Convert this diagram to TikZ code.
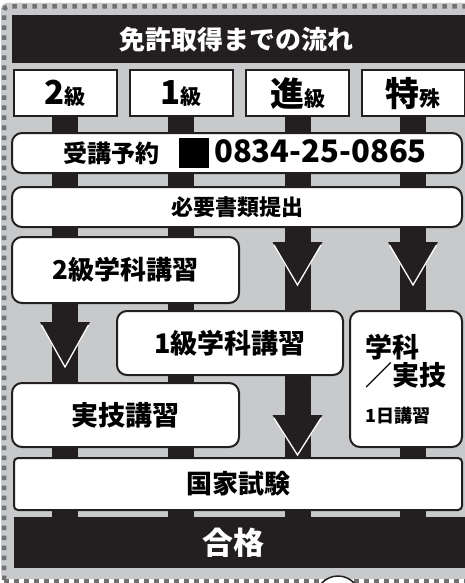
\documentclass[tikz,border=0pt]{standalone}
\usepackage{fontspec}
\setmainfont{Noto Sans CJK JP}[BoldFont={Noto Sans CJK JP Black}]
\usetikzlibrary{positioning}
\definecolor{ink}{HTML}{231F20}
\definecolor{panel}{HTML}{C8C9CB}
\definecolor{dotgray}{HTML}{707173}
\newcommand{\fs}[1]{\fontsize{#1}{#1}\selectfont}

\begin{document}
\begin{tikzpicture}[x=1pt,y=-1pt,
    box/.style={draw=ink,fill=white,line width=2pt,rounded corners=10pt,inner sep=0pt,font=\bfseries\fs{26}},
    head/.style={draw=ink,fill=white,line width=2pt,inner sep=0pt,minimum width=103pt,minimum height=46pt,font=\bfseries},
    band/.style={fill=ink,text=white,inner sep=0pt,font=\bfseries},
    bar/.style={draw=ink,line width=26pt},
    dots/.style={draw=dotgray,line width=4.5pt,dash pattern=on 4.5pt off 5.5pt}]
  \useasboundingbox (0,0) rectangle (464,583);
  % panel and dotted frame
  \fill[panel,rounded corners=6pt] (1,3) rectangle (490,579);
  \draw[dots,rounded corners=4pt] (4,600) -- (4,6.5) -- (490,6.5);
  \draw[dots] (4,581) -- (490,581);
  \draw[ink,fill=white,line width=1.5pt] (338,598) circle[radius=22];

  \node[band,minimum width=460pt,minimum height=48pt,anchor=north west] (title) at (12,15)
       {\hspace*{-12pt}\fs{26}免許取得までの流れ};

  \node[head] (h2) at (65,93.5)   {\fs{33}2\fs{21}級};
  \node[head] (h1) at (181,93.5)  {\fs{33}1\fs{21}級};
  \node[head] (hs) at (297.5,93.5) {\fs{34}進\fs{21}級};
  \node[head] (ht) at (413,93.5)  {\fs{34}特\fs{21}殊};

  \node[band,minimum width=456pt,minimum height=51pt,anchor=north west] (pass) at (14,517)
       {\hspace*{-18pt}\fs{31}合格};

  % column bars
  \draw[bar] (h2.south) -- (h2.south |- pass.north);
  \draw[bar] (h1.south) -- (h1.south |- pass.north);
  \draw[bar] (hs.south) -- (hs.south |- pass.north);
  \draw[bar] (ht.south) -- (ht.south |- pass.north);

  % arrow heads
  \foreach \cx/\cy/\h in {297.5/242/46, 413/242/46, 65/322/48, 297.5/415/43} {
    \fill[ink] (\cx-25,\cy) -- (\cx+25,\cy) -- (\cx,\cy+\h) -- cycle;
    \draw[white,line width=1.3pt] (\cx-23.5,\cy+3) -- (\cx,\cy+\h-3) -- (\cx+23.5,\cy+3);
  }

  \node[box,minimum width=450pt,minimum height=40pt] (yoyaku) at (237,153)
       {\hspace*{16pt}\fs{24}受講予約\hspace{20pt}\rule[-5pt]{30pt}{29pt}\hspace{5pt}\fs{31}0834-25-0865};
  \node[box,minimum width=450pt,minimum height=40pt,below=12pt of yoyaku] (shorui)
       {\fs{22}必要書類提出};
  \node[box,minimum width=227pt,minimum height=66pt] (gaku2) at (125.5,270) {2級学科講習};
  \node[box,minimum width=226pt,minimum height=64pt] (gaku1) at (230,343) {\fs{27}1級学科講習};
  \node[box,minimum width=112pt,minimum height=136pt,align=left] (tokusyu) at (406,379)
       {\fs{27}学科\\[2pt]\fs{27}／実技\\[11pt]\fs{18}1日講習};
  \node[box,minimum width=227pt,minimum height=64pt] (jitsugi) at (125.5,415) {\fs{27}実技講習};
  \node[box,rounded corners=4pt,minimum width=448pt,minimum height=52pt] (kokka) at (238,484)
       {国家試験};
\end{tikzpicture}
\end{document}
